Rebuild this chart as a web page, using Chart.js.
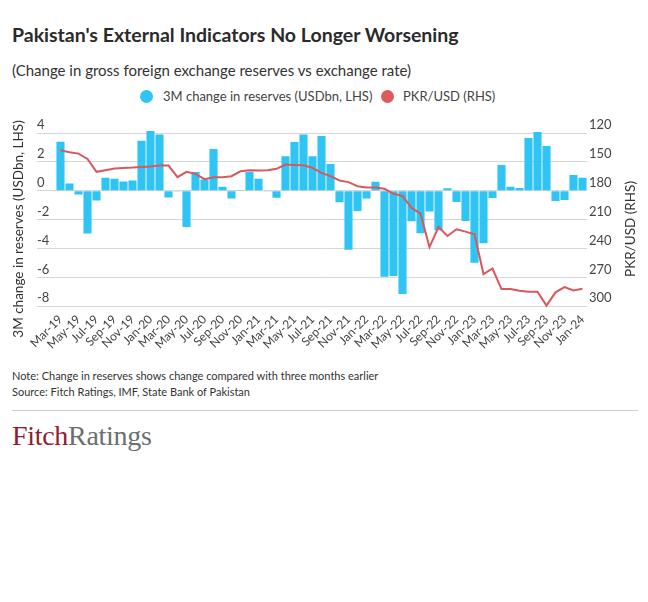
<!DOCTYPE html>
<html>
<head>
<meta charset="utf-8">
<script src="https://cdn.jsdelivr.net/npm/chart.js@4.4.1/dist/chart.umd.min.js"></script>
<style>
  html, body { margin: 0; padding: 0; background: #fff; }
  body { width: 648px; height: 602px; overflow: hidden; position: relative; font-family: Lato, 'Open Sans', sans-serif; color: #333; }
  #title { position: absolute; left: 12px; top: 23px; font-size: 19.5px; font-weight: 700; color: #2b2b2b; white-space: nowrap; }
  #sub { position: absolute; left: 12px; top: 61px; font-size: 15px; color: #333; white-space: nowrap; }
  #legend { position: absolute; left: 0; top: 88px; width: 648px; height: 16px; }
  .lg { position: absolute; top: 0; font-size: 13px; line-height: 16px; color: #444; white-space: nowrap; }
  .dot { position: absolute; top: 1.5px; width: 13px; height: 13px; border-radius: 50%; }
  #wrap { position: absolute; left: 0; top: 110px; width: 648px; height: 255px; }
  #note { position: absolute; left: 12px; top: 368px; font-size: 11px; line-height: 16px; color: #333; white-space: nowrap; }
  #rule { position: absolute; left: 12px; top: 410px; width: 626px; height: 1px; background: #cfcfcf; }
  #logo { position: absolute; left: 12px; top: 420px; font-family: 'Liberation Serif', 'DejaVu Serif', serif; font-size: 28px; line-height: 32px; letter-spacing: -0.3px; }
  #logo .f { color: #8f1d31; }
  #logo .r { color: #6d6e70; }
</style>
</head>
<body>
<div id="title">Pakistan's External Indicators No Longer Worsening</div>
<div id="sub">(Change in gross foreign exchange reserves vs exchange rate)</div>
<div id="legend">
  <span class="dot" style="left:140px;background:#2ec4f3"></span>
  <span class="lg" id="lg1" style="left:163px"></span>
  <span class="dot" style="left:381px;background:#df5a5c"></span>
  <span class="lg" id="lg2" style="left:403px"></span>
</div>
<div id="wrap"><canvas id="c"></canvas></div>
<div id="note">Note: Change in reserves shows change compared with three months earlier<br>Source: Fitch Ratings, IMF, State Bank of Pakistan</div>
<div id="rule"></div>
<div id="logo"><span class="f">Fitch</span><span class="r">Ratings</span></div>
<script>
// ---- data ----
const months = ['Mar-19','Apr-19','May-19','Jun-19','Jul-19','Aug-19','Sep-19','Oct-19','Nov-19','Dec-19',
  'Jan-20','Feb-20','Mar-20','Apr-20','May-20','Jun-20','Jul-20','Aug-20','Sep-20','Oct-20','Nov-20','Dec-20',
  'Jan-21','Feb-21','Mar-21','Apr-21','May-21','Jun-21','Jul-21','Aug-21','Sep-21','Oct-21','Nov-21','Dec-21',
  'Jan-22','Feb-22','Mar-22','Apr-22','May-22','Jun-22','Jul-22','Aug-22','Sep-22','Oct-22','Nov-22','Dec-22',
  'Jan-23','Feb-23','Mar-23','Apr-23','May-23','Jun-23','Jul-23','Aug-23','Sep-23','Oct-23','Nov-23','Dec-23',
  'Jan-24'];

const reserveChange = [3.4, 0.5, -0.25, -2.95, -0.67, 0.9, 0.83, 0.64, 0.71, 3.47,
  4.14, 3.89, -0.46, -0.05, -2.5, 1.31, 0.78, 2.9, 0.28, -0.53, 0.02, 1.31,
  0.83, -0.05, -0.48, 2.39, 3.38, 3.89, 2.39, 3.79, 1.86, -0.8, -4.09, -1.4,
  -0.53, 0.62, -5.95, -5.9, -7.15, -2.11, -2.94, -1.43, -2.74, 0.17, -0.78, -2.09,
  -4.99, -3.63, -0.5, 1.79, 0.28, 0.2, 3.66, 4.07, 3.1, -0.71, -0.64, 1.1,
  0.9];

const pkrUsd = [137.9, 140.0, 141.4, 146.9, 160.3, 158.6, 156.9, 156.2, 155.9, 155.2,
  154.8, 153.8, 153.8, 165.9, 160.3, 162.4, 167.9, 165.9, 165.9, 164.8, 159.7, 158.6,
  159.0, 158.6, 157.2, 152.8, 153.1, 153.4, 156.2, 161.4, 164.8, 169.3, 171.0, 175.2,
  176.6, 176.6, 177.9, 183.1, 185.5, 197.6, 203.8, 238.5, 217.6, 226.9, 220.0, 222.4,
  225.2, 266.5, 260.7, 282.1, 282.1, 283.8, 284.8, 284.8, 299.3, 285.5, 280.0, 283.5,
  281.7];

const leftTicks = [-8, -6, -4, -2, 0, 2, 4];
const rightTicks = [120, 150, 180, 210, 240, 270, 300];

const seriesNames = ['3M change in reserves (USDbn, LHS)', 'PKR/USD (RHS)'];
const leftAxisTitle = '3M change in reserves (USDbn, LHS)';
const rightAxisTitle = 'PKR/USD (RHS)';

// ---- colours / styles ----
const barColor = '#2ec4f3';
const lineColor = '#d8585b';
const gridColor = '#d6d6d6';
const tickColor = '#444';

document.getElementById('lg1').textContent = seriesNames[0];
document.getElementById('lg2').textContent = seriesNames[1];

const axisTitlePlugin = {
  id: 'axisTitles',
  afterDraw(chart) {
    const ctx = chart.ctx;
    const ca = chart.chartArea;
    const cy = (ca.top + ca.bottom) / 2 + 10;
    ctx.save();
    ctx.font = '13.5px Lato';
    ctx.fillStyle = '#333';
    ctx.textAlign = 'center';
    ctx.textBaseline = 'middle';
    ctx.translate(19, cy);
    ctx.rotate(-Math.PI / 2);
    ctx.fillText(leftAxisTitle, 0, 0);
    ctx.restore();
    ctx.save();
    ctx.font = '13.5px Lato';
    ctx.fillStyle = '#333';
    ctx.textAlign = 'center';
    ctx.textBaseline = 'middle';
    ctx.translate(631, cy);
    ctx.rotate(-Math.PI / 2);
    ctx.fillText(rightAxisTitle, 0, 0);
    ctx.restore();
  }
};

new Chart(document.getElementById('c'), {
  data: {
    labels: months,
    datasets: [
      {
        type: 'line',
        label: seriesNames[1],
        data: pkrUsd,
        yAxisID: 'y2',
        borderColor: lineColor,
        backgroundColor: lineColor,
        borderWidth: 2,
        pointRadius: 0,
        tension: 0,
        order: 0
      },
      {
        type: 'bar',
        label: seriesNames[0],
        data: reserveChange,
        yAxisID: 'y',
        backgroundColor: barColor,
        borderWidth: 0,
        barPercentage: 0.9,
        categoryPercentage: 1.0,
        order: 1
      }
    ]
  },
  options: {
    responsive: true,
    maintainAspectRatio: false,
    animation: false,
    layout: { padding: { left: 37, right: 0, top: 18.7, bottom: 0 } },
    plugins: {
      legend: { display: false },
      tooltip: { enabled: false },
      title: { display: false }
    },
    scales: {
      x: {
        grid: { display: false, drawTicks: false },
        border: { display: false },
        ticks: {
          autoSkip: false,
          maxRotation: 45,
          minRotation: 45,
          padding: 3,
          color: tickColor,
          font: { family: 'Lato', size: 12 },
          callback: function (value, index) {
            return index % 2 === 0 ? this.getLabelForValue(value) : '';
          }
        },
        afterFit(scale) { scale.height = 55.8; }
      },
      y: {
        position: 'left',
        min: -8.2,
        max: 4.3,
        afterBuildTicks(scale) { scale.ticks = leftTicks.map(v => ({ value: v })); },
        grid: { color: gridColor, lineWidth: 1, drawTicks: true, tickLength: 19, tickColor: gridColor },
        border: { display: false },
        ticks: {
          crossAlign: 'far',
          labelOffset: -8,
          padding: 0,
          color: tickColor,
          font: { family: 'Lato', size: 13 }
        },
        afterFit(scale) { scale.width = 19; }
      },
      y2: {
        position: 'right',
        reverse: true,
        min: 115.5,
        max: 303,
        afterBuildTicks(scale) { scale.ticks = rightTicks.map(v => ({ value: v })); },
        grid: { display: false, drawTicks: false },
        border: { display: false },
        ticks: {
          labelOffset: -8,
          padding: 2,
          color: tickColor,
          font: { family: 'Lato', size: 13 }
        },
        afterFit(scale) { scale.width = 61; }
      }
    }
  },
  plugins: [axisTitlePlugin]
});
</script>
</body>
</html>
